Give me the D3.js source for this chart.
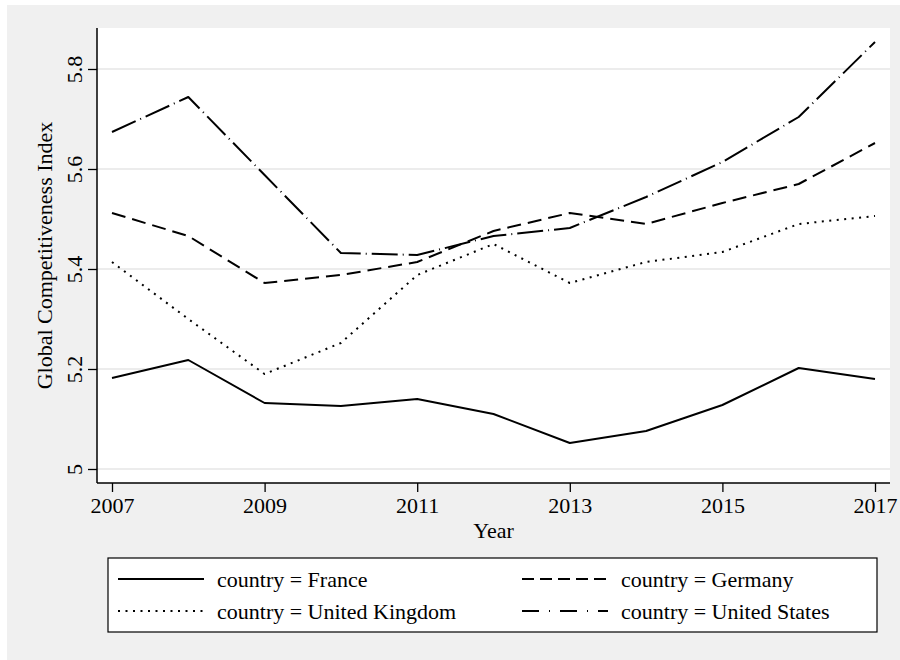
<!DOCTYPE html>
<html>
<head>
<meta charset="utf-8">
<script src="https://cdn.jsdelivr.net/npm/d3@7"></script>
<style>
  html, body { margin: 0; padding: 0; background: #ffffff; }
  svg { display: block; }
  svg text { font-family: "Liberation Serif", "Times New Roman", Times, "DejaVu Serif", serif !important; fill: #000; }
</style>
</head>
<body>
<svg id="chart" width="900" height="660"></svg>
<script>
const years = [2007, 2008, 2009, 2010, 2011, 2012, 2013, 2014, 2015, 2016, 2017];
const france  = [5.182, 5.218, 5.132, 5.126, 5.140, 5.110, 5.052, 5.076, 5.128, 5.202, 5.180];
const germany = [5.512, 5.466, 5.372, 5.388, 5.414, 5.476, 5.512, 5.490, 5.532, 5.570, 5.652];
const uk      = [5.414, 5.300, 5.190, 5.252, 5.388, 5.450, 5.372, 5.414, 5.434, 5.490, 5.506];
const us      = [5.674, 5.744, 5.588, 5.432, 5.428, 5.466, 5.482, 5.544, 5.614, 5.704, 5.854];
const seriesNames = ["country = France", "country = Germany", "country = United Kingdom", "country = United States"];
const xTicks = [2007, 2009, 2011, 2013, 2015, 2017];
const yTicks = [5, 5.2, 5.4, 5.6, 5.8];
const xTitle = "Year";
const yTitle = "Global Competitiveness Index";

const FONT = '"Liberation Serif", "Times New Roman", Times, serif';
const dashes = ["none", "14,7", "2,5.5", "26,5,1,5"];
const legendDashes = ["none", "12,6", "2,5.5", "17,10,1,10"];
const seriesValues = [france, germany, uk, us];

const svg = d3.select("#chart");

// outer background
svg.append("rect").attr("x", 7).attr("y", 5).attr("width", 893).attr("height", 655).attr("fill", "#f0f0f0");

const plot = { left: 97, right: 890, top: 28, bottom: 483 };
svg.append("rect").attr("x", plot.left).attr("y", plot.top)
  .attr("width", plot.right - plot.left).attr("height", plot.bottom - plot.top).attr("fill", "#ffffff");

const x = d3.scaleLinear().domain([2007, 2017]).range([112, 875]);
const y = d3.scaleLinear().domain([5, 5.8]).range([469, 69]);

// gridlines
svg.append("g").selectAll("line").data(yTicks).join("line")
  .attr("x1", plot.left).attr("x2", plot.right)
  .attr("y1", d => y(d)).attr("y2", d => y(d))
  .attr("stroke", "#e6e6e6").attr("stroke-width", 1.5);

// y axis
const yAxis = svg.append("g").attr("transform", `translate(${plot.left},0)`)
  .call(d3.axisLeft(y).tickValues(yTicks).tickSize(9).tickFormat(d3.format("~g")));
yAxis.attr("font-family", FONT);
yAxis.select(".domain").remove();
yAxis.selectAll(".tick line").attr("stroke", "#000").attr("stroke-width", 1.3);
yAxis.selectAll(".tick text").attr("font-size", 22)
  .style("font-family", FONT)
  .attr("transform", "rotate(-90)")
  .attr("x", 0).attr("y", -15).attr("dy", 0)
  .attr("text-anchor", "middle");
svg.append("line").attr("x1", plot.left).attr("x2", plot.left)
  .attr("y1", plot.top).attr("y2", plot.bottom).attr("stroke", "#000").attr("stroke-width", 1.5);

// x axis
const xAxis = svg.append("g").attr("transform", `translate(0,${plot.bottom})`)
  .call(d3.axisBottom(x).tickValues(xTicks).tickSize(9).tickFormat(d3.format("d")));
xAxis.attr("font-family", FONT);
xAxis.select(".domain").remove();
xAxis.selectAll(".tick line").attr("stroke", "#000").attr("stroke-width", 1.3);
xAxis.selectAll(".tick text").attr("font-size", 22)
  .style("font-family", FONT)
  .attr("y", 30).attr("dy", 0);
svg.append("line").attr("x1", plot.left).attr("x2", plot.right)
  .attr("y1", plot.bottom).attr("y2", plot.bottom).attr("stroke", "#000").attr("stroke-width", 1.5);

// titles
svg.append("text").attr("x", (plot.left + plot.right) / 2).attr("y", 538)
  .attr("text-anchor", "middle").attr("font-size", 22).style("font-family", FONT).text(xTitle);
svg.append("text").attr("transform", `translate(52,${(plot.top + plot.bottom) / 2}) rotate(-90)`)
  .attr("text-anchor", "middle").attr("font-size", 22).style("font-family", FONT).text(yTitle);

// lines
const line = d3.line().x((d, i) => x(years[i])).y(d => y(d));
svg.append("g").selectAll("path").data(seriesValues).join("path")
  .attr("d", d => line(d))
  .attr("fill", "none").attr("stroke", "#000").attr("stroke-width", 2)
  .attr("stroke-linejoin", "round")
  .attr("stroke-dasharray", (d, i) => dashes[i]);

// legend
svg.append("rect").attr("x", 108).attr("y", 558).attr("width", 769).attr("height", 74)
  .attr("fill", "#fff").attr("stroke", "#000").attr("stroke-width", 1.2);
const legPos = [
  { lx: 118, ly: 579 }, { lx: 522, ly: 579 },
  { lx: 118, ly: 611 }, { lx: 522, ly: 611 }
];
const leg = svg.append("g").selectAll("g").data(seriesNames).join("g");
leg.append("line")
  .attr("x1", (d, i) => legPos[i].lx).attr("x2", (d, i) => legPos[i].lx + 86)
  .attr("y1", (d, i) => legPos[i].ly).attr("y2", (d, i) => legPos[i].ly)
  .attr("stroke", "#000").attr("stroke-width", 2)
  .attr("stroke-dasharray", (d, i) => legendDashes[i]);
leg.append("text")
  .attr("x", (d, i) => legPos[i].lx + 99).attr("y", (d, i) => legPos[i].ly + 8)
  .attr("font-size", 22).style("font-family", FONT).text(d => d);
</script>
</body>
</html>
